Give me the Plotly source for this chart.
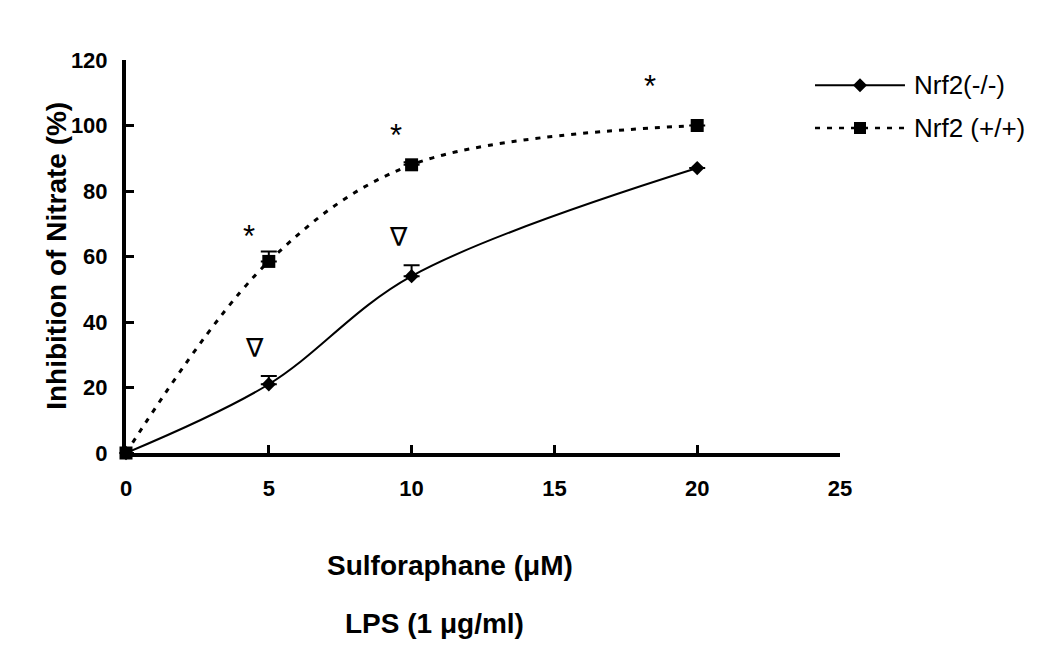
import plotly.graph_objects as go

# Data
dose = [0, 5, 10, 20]
ko_values = [0, 21, 54, 87]          # Nrf2(-/-)
ko_err = [0, 2.5, 3.3, 0]
wt_values = [0, 58.5, 88, 100]       # Nrf2 (+/+)
wt_err = [0, 3.0, 0.8, 0]
x_ticks = [0, 5, 10, 15, 20, 25]
y_ticks = [0, 20, 40, 60, 80, 100, 120]
series_names = ["Nrf2(-/-)", "Nrf2 (+/+)"]

star_x = [4.3, 9.45, 18.35]
star_y = [66, 97, 112]
tri_x = [4.5, 9.55]
tri_y = [32, 66]

font_family = "Liberation Sans, Arial, sans-serif"
DASH = "5px,7px"

fig = go.Figure()
fig.add_trace(go.Scatter(
    x=dose, y=ko_values, name=series_names[0], mode="lines+markers",
    line=dict(color="black", width=2, shape="spline", smoothing=1.0),
    marker=dict(symbol="diamond", size=11, color="black"),
    error_y=dict(type="data", array=ko_err, arrayminus=[0]*4, symmetric=False,
                 color="black", thickness=2, width=8),
    cliponaxis=False,
))
fig.add_trace(go.Scatter(
    x=dose, y=wt_values, name=series_names[1], mode="lines+markers",
    line=dict(color="black", width=3, shape="spline", smoothing=1.0, dash=DASH),
    marker=dict(symbol="square", size=13, color="black"),
    error_y=dict(type="data", array=wt_err, arrayminus=[0]*4, symmetric=False,
                 color="black", thickness=2, width=8),
    cliponaxis=False,
))

annotations = []
for xx, yy in zip(star_x, star_y):
    annotations.append(dict(x=xx, y=yy, xref="x", yref="y", text="*", showarrow=False,
                            font=dict(family=font_family, size=31, color="black")))
for xx, yy in zip(tri_x, tri_y):
    annotations.append(dict(x=xx, y=yy, xref="x", yref="y", text="∇", showarrow=False,
                            font=dict(family="DejaVu Sans, " + font_family, size=26, color="black")))

annotations += [
    dict(x=0.454, y=-0.331, xref="paper", yref="paper", text="<b>Sulforaphane (μM)</b>",
         showarrow=False, font=dict(family=font_family, size=28, color="black")),
    dict(x=0.432, y=-0.478, xref="paper", yref="paper", text="<b>LPS (1 μg/ml)</b>",
         showarrow=False, font=dict(family=font_family, size=28, color="black")),
    dict(x=-0.123, y=0.501, xref="paper", yref="paper", text="<b>Inhibition of Nitrate (%)</b>",
         showarrow=False, textangle=-90, font=dict(family=font_family, size=28, color="black")),
]

# Custom legend (longer line samples as in the reference)
leg_x0, leg_x1, leg_xm, leg_tx = 0.965, 1.091, 1.028, 1.101
leg_y = [0.936, 0.827]
shapes = []
shapes.append(dict(type="line", xref="paper", yref="paper", x0=leg_x0, x1=leg_x1,
                   y0=leg_y[0], y1=leg_y[0], line=dict(color="black", width=2)))
shapes.append(dict(type="path", xref="paper", yref="paper", xsizemode="pixel", ysizemode="pixel",
                   xanchor=leg_xm, yanchor=leg_y[0], path="M -7 0 L 0 7 L 7 0 L 0 -7 Z",
                   fillcolor="black", line=dict(color="black", width=0)))
shapes.append(dict(type="line", xref="paper", yref="paper", x0=leg_x0, x1=leg_x1,
                   y0=leg_y[1], y1=leg_y[1], line=dict(color="black", width=2.5, dash=DASH)))
shapes.append(dict(type="path", xref="paper", yref="paper", xsizemode="pixel", ysizemode="pixel",
                   xanchor=leg_xm, yanchor=leg_y[1], path="M -6 -6 L 6 -6 L 6 6 L -6 6 Z",
                   fillcolor="black", line=dict(color="black", width=0)))
for name, yy in zip(series_names, leg_y):
    annotations.append(dict(x=leg_tx, y=yy, xref="paper", yref="paper", text=name,
                            showarrow=False, xanchor="left", yanchor="middle",
                            font=dict(family=font_family, size=26, color="black")))

fig.update_layout(
    width=1042, height=653,
    margin=dict(l=118, r=210, t=52, b=208),
    paper_bgcolor="white", plot_bgcolor="white",
    showlegend=False,
    annotations=annotations,
    shapes=shapes,
    xaxis=dict(range=[0, 25], tickvals=x_ticks, ticktext=[f"<b>{v}</b>" for v in x_ticks],
               showline=True, linecolor="black", linewidth=4, mirror=False,
               ticks="inside", ticklen=8, tickwidth=3, tickcolor="black",
               showgrid=False, zeroline=False,
               tickfont=dict(family=font_family, size=22, color="black"),
               ticklabelstandoff=13),
    yaxis=dict(range=[0, 120], tickvals=y_ticks, ticktext=[f"<b>{v}</b>" for v in y_ticks],
               showline=True, linecolor="black", linewidth=4,
               ticks="inside", ticklen=8, tickwidth=3, tickcolor="black",
               showgrid=False, zeroline=False,
               tickfont=dict(family=font_family, size=22, color="black"),
               ticklabelstandoff=10),
)

fig.write_html("out.html")
